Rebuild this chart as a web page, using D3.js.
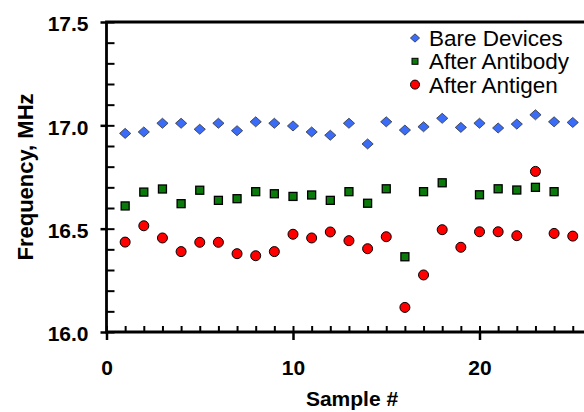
<!DOCTYPE html>
<html><head><meta charset="utf-8">
<script src="https://cdn.jsdelivr.net/npm/d3@7"></script>
<style>html,body{margin:0;padding:0;background:#fff;overflow:hidden}svg{display:block}</style>
</head><body><div id="chart"></div>
<script>
const samples = [1,2,3,4,5,6,7,8,9,10,11,12,13,14,15,16,17,18,19,20,21,22,23,24,25];
const bare = [16.961,16.968,17.010,17.010,16.981,17.010,16.974,17.017,17.010,16.997,16.968,16.952,17.010,16.910,17.017,16.977,16.993,17.034,16.990,17.010,16.987,17.006,17.051,17.017,17.014];
const antibody = [16.610,16.677,16.692,16.621,16.686,16.637,16.645,16.679,16.669,16.656,16.663,16.637,16.679,16.623,16.693,16.364,16.679,16.722,null,16.664,16.693,16.687,16.700,16.679,null];
const antigen = [16.435,16.514,16.455,16.389,16.434,16.434,16.379,16.369,16.389,16.473,16.455,16.484,16.442,16.403,16.461,16.119,16.276,16.495,16.410,16.485,16.485,16.466,16.777,16.477,16.464];
const seriesNames = ["Bare Devices","After Antibody","After Antigen"];
const xMajor = [0,10,20];
const yMajor = [16.0,16.5,17.0,17.5];

const W = 584, H = 412;
const svg = d3.select("#chart").append("svg").attr("width", W).attr("height", H);
svg.append("rect").attr("width", W).attr("height", H).attr("fill", "#fff");

const x = d3.scaleLinear().domain([0, 30]).range([106.5, 106.5 + 30 * 18.65]);
const y = d3.scaleLinear().domain([16, 17.5]).range([332, 22]);
const font = "'Liberation Sans', Arial, sans-serif";

// minor ticks
const xMinor = d3.range(0, 31);
svg.append("g").attr("transform", `translate(0,${y(16)})`)
  .call(d3.axisBottom(x).tickValues(xMinor).tickSize(-6).tickFormat(""))
  .call(g => g.select(".domain").remove())
  .call(g => g.selectAll("line").attr("stroke", "#000").attr("stroke-width", 2));
svg.append("g").attr("transform", `translate(0,${y(16)})`)
  .call(d3.axisBottom(x).tickValues(xMajor).tickSize(8).tickPadding(20).tickFormat(d3.format("d")))
  .call(g => g.select(".domain").remove())
  .call(g => g.selectAll("line").attr("stroke", "#000").attr("stroke-width", 2.5))
  .call(g => g.selectAll("text").attr("fill", "#000").attr("font-family", font).attr("font-weight", "bold").attr("font-size", 21));

const yMinor = d3.range(0, 16).map(i => 16 + i * 0.1);
svg.append("g").attr("transform", `translate(${x(0)},0)`)
  .call(d3.axisLeft(y).tickValues(yMinor).tickSize(-8).tickFormat(""))
  .call(g => g.select(".domain").remove())
  .call(g => g.selectAll("line").attr("stroke", "#000").attr("stroke-width", 2));
svg.append("g").attr("transform", `translate(${x(0)},0)`)
  .call(d3.axisLeft(y).tickValues(yMajor).tickSize(6).tickPadding(12).tickFormat(d3.format(".1f")))
  .call(g => g.select(".domain").remove())
  .call(g => g.selectAll("line").attr("stroke", "#000").attr("stroke-width", 2.5))
  .call(g => g.selectAll("text").attr("fill", "#000").attr("font-family", font).attr("font-weight", "bold").attr("font-size", 21).attr("dy", "0.42em"));

// frame
svg.append("path")
  .attr("d", `M${x(30)},${y(17.5)}H${x(0)}V${y(16)}H${x(30)}`)
  .attr("fill", "none").attr("stroke", "#000").attr("stroke-width", 2.8);

// titles
svg.append("text").attr("x", 352).attr("y", 406).attr("text-anchor", "middle")
  .attr("font-family", font).attr("font-weight", "bold").attr("font-size", 21).text("Sample #");
svg.append("text").attr("transform", `translate(33,177) rotate(-90)`).attr("text-anchor", "middle")
  .attr("font-family", font).attr("font-weight", "bold").attr("font-size", 22).text("Frequency, MHz");

const diamond = s => `M0,${-s*0.9}L${s},0L0,${s*0.9}L${-s},0Z`;

// series
const gB = svg.append("g");
gB.selectAll("path").data(samples.map((s, i) => [s, bare[i]]).filter(d => d[1] != null))
  .join("path").attr("d", diamond(5.6))
  .attr("transform", d => `translate(${x(d[0])},${y(d[1])})`)
  .attr("fill", "#3a6cf7").attr("stroke", "#333").attr("stroke-width", 0.8);

const gA = svg.append("g");
gA.selectAll("rect").data(samples.map((s, i) => [s, antibody[i]]).filter(d => d[1] != null))
  .join("rect").attr("x", d => x(d[0]) - 4).attr("y", d => y(d[1]) - 4)
  .attr("width", 8).attr("height", 8)
  .attr("fill", "#0a7a0a").attr("stroke", "#000").attr("stroke-width", 1.3);

const gG = svg.append("g");
gG.selectAll("circle").data(samples.map((s, i) => [s, antigen[i]]).filter(d => d[1] != null))
  .join("circle").attr("cx", d => x(d[0])).attr("cy", d => y(d[1])).attr("r", 5)
  .attr("fill", "#ff0000").attr("stroke", "#000").attr("stroke-width", 1);

// legend
const lg = svg.append("g");
const ly = [38, 61.3, 84.6];
lg.append("path").attr("d", diamond(4.6)).attr("transform", `translate(415,${ly[0]})`)
  .attr("fill", "#3a6cf7").attr("stroke", "#333").attr("stroke-width", 0.8);
lg.append("rect").attr("x", 412).attr("y", ly[1] - 3).attr("width", 6).attr("height", 6)
  .attr("fill", "#0a7a0a").attr("stroke", "#000").attr("stroke-width", 1);
lg.append("circle").attr("cx", 415).attr("cy", ly[2]).attr("r", 4.5)
  .attr("fill", "#ff0000").attr("stroke", "#000").attr("stroke-width", 1);
seriesNames.forEach((n, i) => {
  lg.append("text").attr("x", 429).attr("y", ly[i]).attr("dy", "0.36em")
    .attr("font-family", font).attr("font-size", 22.5).attr("fill", "#000").text(n);
});
</script></body></html>
